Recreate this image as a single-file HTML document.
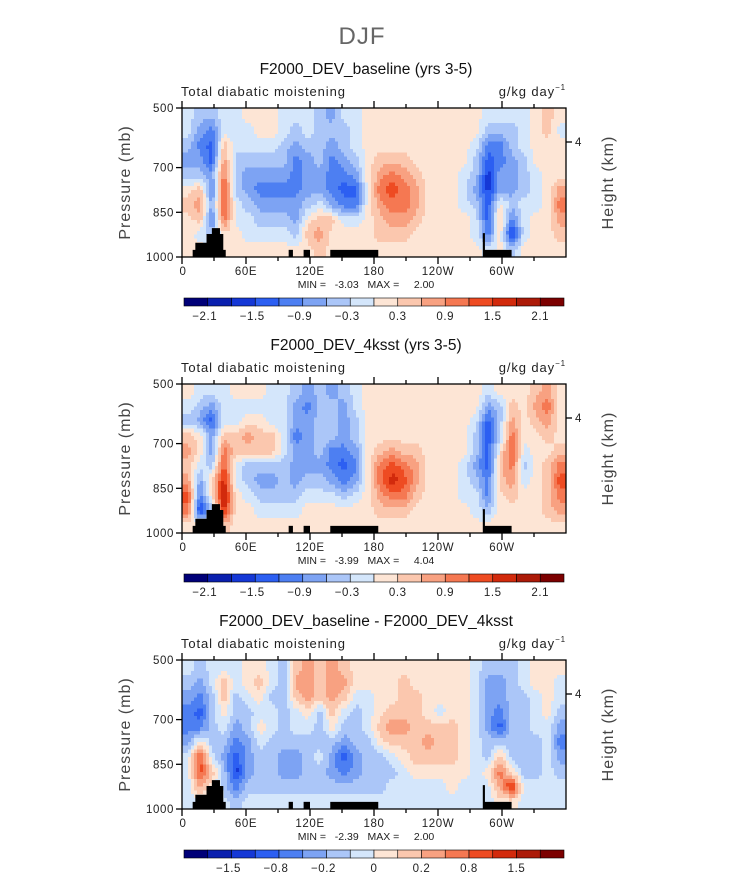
<!DOCTYPE html>
<html><head><meta charset="utf-8"><style>
html,body{margin:0;padding:0;background:#fff;}
svg{display:block;font-family:"Liberation Sans",sans-serif;}
</style></head><body>
<svg id="fig" width="733" height="872" viewBox="0 0 733 872" xmlns="http://www.w3.org/2000/svg">
<defs></defs>
<text x="362" y="44" text-anchor="middle" font-size="24" fill="#666" style="letter-spacing:1px">DJF</text>
</svg>
<script>
// ---- data (level indices 0..15; 0 = darkest blue, 15 = darkest red) ----
const lonEdges = [0,360];
const presEdges = [500,1000];
const baselineLevels = [
[7,6,6,7,7,8,8,8,7,7,7,6,5,7,7,8,8,8,8,8,8,8,8,8,8,7,7,7,7,8,9,8],
[7,5,4,7,7,7,8,8,7,6,7,6,6,6,7,8,8,8,8,8,8,8,8,8,8,6,6,6,7,8,9,7],
[6,4,3,9,7,7,7,7,6,5,6,6,5,6,7,8,8,8,8,8,8,8,8,8,7,4,4,6,7,8,8,8],
[5,5,3,10,6,6,6,6,6,4,5,6,4,5,6,8,9,9,9,8,8,8,8,8,6,3,4,5,6,8,8,8],
[6,6,5,11,6,5,5,5,5,4,5,5,4,4,5,8,10,11,10,9,8,8,8,7,6,2,5,5,6,7,8,8],
[8,9,4,12,6,5,4,4,4,4,5,5,4,3,3,8,11,12,11,10,8,8,8,7,5,2,5,5,6,7,8,10],
[9,10,5,12,7,6,5,5,5,5,6,7,5,4,4,8,10,11,11,10,8,8,8,7,6,3,8,6,7,7,8,11],
[8,9,4,11,7,7,6,6,6,5,8,9,9,7,7,8,9,10,10,9,8,8,8,8,7,3,9,4,7,8,8,10],
[8,7,6,8,8,7,7,7,7,6,9,10,8,8,8,8,9,9,9,8,8,8,8,8,7,4,8,2,7,8,8,9],
[8,8,8,8,8,8,8,8,8,8,8,9,8,8,8,8,8,8,8,8,8,8,8,8,8,7,8,6,8,8,8,8]];
const ksstLevels = [
[8,7,7,7,8,8,8,7,7,6,5,6,5,6,7,8,8,8,8,8,8,8,8,8,8,7,8,8,8,9,10,8],
[7,6,5,7,7,7,7,7,7,5,4,6,6,5,7,8,8,8,8,8,8,8,8,8,8,5,6,9,8,10,11,8],
[6,5,3,7,7,8,8,7,7,5,5,6,6,5,6,8,8,8,8,8,8,8,8,8,7,3,6,10,8,9,10,8],
[9,8,5,9,9,10,9,9,7,4,5,6,6,5,6,8,8,8,8,8,8,8,8,8,6,3,6,11,8,8,9,8],
[10,8,5,11,9,9,9,9,7,5,5,6,4,4,5,8,9,10,9,9,8,8,8,8,6,3,8,12,7,8,8,9],
[9,7,6,12,7,6,6,6,6,5,5,5,4,3,4,8,11,12,11,10,8,8,8,7,5,3,9,11,6,8,9,11],
[10,5,9,13,7,6,5,5,6,5,6,6,5,4,5,8,11,13,12,10,8,8,8,7,6,4,9,10,7,8,9,12],
[12,4,8,14,8,7,6,6,6,6,7,7,7,6,7,8,10,11,11,9,8,8,8,7,7,4,8,9,8,8,9,11],
[11,2,6,13,8,8,7,7,7,7,8,8,8,8,8,8,9,9,9,8,8,8,8,8,7,6,8,8,8,8,9,10],
[8,8,8,9,8,8,8,8,8,8,8,8,8,8,8,8,8,8,8,8,8,8,8,8,8,8,8,8,8,8,8,8]];
const diffLevels = [
[7,6,7,7,7,8,8,7,6,9,10,9,10,9,8,8,8,8,8,8,8,8,8,8,7,6,6,6,7,8,8,8],
[6,5,7,9,7,8,9,7,6,10,10,9,10,10,8,8,8,8,9,8,8,8,8,8,7,5,5,6,7,8,8,7],
[5,4,6,9,6,7,8,6,6,9,10,9,10,9,7,7,8,8,9,9,8,8,8,8,7,5,5,6,6,7,8,7],
[4,3,6,8,6,6,7,7,6,7,8,6,9,7,6,7,8,9,9,9,8,7,8,8,7,5,4,6,6,7,8,6],
[4,4,6,7,5,6,8,7,6,7,7,6,8,6,6,7,9,10,10,9,9,9,9,8,7,5,3,6,6,7,7,5],
[5,8,6,6,4,5,7,6,6,6,6,6,6,5,6,6,8,9,9,9,10,9,9,8,7,6,6,6,6,6,7,4],
[7,12,7,5,3,5,6,6,5,5,6,7,5,3,5,6,6,7,8,9,9,9,9,8,7,6,9,6,6,6,7,5],
[7,12,9,6,2,5,6,6,5,5,6,6,5,4,5,6,6,6,7,8,8,8,8,8,7,8,11,8,6,6,7,6],
[7,10,8,6,4,6,6,6,6,6,6,6,6,6,6,6,6,7,7,7,7,7,8,7,7,7,10,13,7,7,7,7],
[7,7,7,7,6,7,7,7,7,7,7,7,7,7,7,7,7,7,7,7,7,7,7,7,7,7,8,8,7,7,7,7]];
const panelTitles = ["F2000_DEV_baseline (yrs 3-5)","F2000_DEV_4ksst (yrs 3-5)","F2000_DEV_baseline - F2000_DEV_4ksst"];
const minLabels = ["-3.03","-3.99","-2.39"];
const maxLabels = ["2.00","4.04","2.00"];
const cbLabelsA = ["\u22122.1","\u22121.5","\u22120.9","\u22120.3","0.3","0.9","1.5","2.1"];
const cbLabelsB = ["\u22121.5","\u22120.8","\u22120.2","0","0.2","0.8","1.5"];
const xTickLons = [0,60,120,180,240,300];
const xTickLabels = ["0","60E","120E","180","120W","60W"];
const yTickPres = [500,700,850,1000];
const yTickLabels = ["500","700","850","1000"];
// terrain (lon, pressure) polygons
const terrain = [
 [[10,1000],[10,976],[12.5,976],[12.5,952],[23,952],[23,923],[28,923],[28,903],[35.6,903],[35.6,923],[38.7,923],[38.7,976],[41,976],[41,1000]],
 [[100,1000],[100,976],[104,976],[104,1000]],
 [[114,1000],[114,976],[120,976],[120,1000]],
 [[139,1000],[139,976],[184,976],[184,1000]],
 [[282,1000],[282,920],[284,920],[284,976],[309,976],[309,1000]]];
const palette = ["#000078","#0a1fae","#1538d6","#2c5ff2","#4d7ff2","#7da3f3","#abc6f8","#d4e6fb",
 "#fde5d5","#fbc7ae","#f8a181","#f57852","#ee4b22","#d22a0c","#ac1a08","#7c0000"];

const NS="http://www.w3.org/2000/svg";
const svg=document.getElementById('fig');
function el(tag,attrs,parent){const e=document.createElementNS(NS,tag);for(const k in attrs)e.setAttribute(k,attrs[k]);(parent||svg).appendChild(e);return e;}
const X0=182,X1=566,H=149;
function xScale(lon){return X0+(lon-lonEdges[0])/(lonEdges[1]-lonEdges[0])*(X1-X0);}
function sample(data,u,v){ // u: column coordinate (cell centers at integers), v: row
  const nr=data.length,nc=data[0].length;
  u=Math.max(0,Math.min(nc-1,u)); v=Math.max(0,Math.min(nr-1,v));
  const c0=Math.floor(u),r0=Math.floor(v),c1=Math.min(nc-1,c0+1),r1=Math.min(nr-1,r0+1);
  const fu=u-c0,fv=v-r0;
  return (data[r0][c0]*(1-fu)+data[r0][c1]*fu)*(1-fv)+(data[r1][c0]*(1-fu)+data[r1][c1]*fu)*fv;
}

const datasets=[baselineLevels,ksstLevels,diffLevels];
const SUB=4;
for(let p=0;p<3;p++){
  const Y0=108+276*p;
  const yScale=pr=>Y0+(pr-presEdges[0])/(presEdges[1]-presEdges[0])*H;
  const g=el('g',{});
  
  
  const t=el('text',{x:366,y:Y0-34,'text-anchor':'middle','font-size':15.5,fill:'#111'},g);
  t.textContent=panelTitles[p];
  
  
  const vt=el('text',{x:181,y:Y0-12,'font-size':13,fill:'#222',style:'letter-spacing:0.9px'},g);
  vt.textContent='Total diabatic moistening';
  
  
  const ut=el('text',{x:566,y:Y0-12,'text-anchor':'end','font-size':13,fill:'#222',style:'letter-spacing:0.9px'},g);
  ut.innerHTML='g/kg day<tspan dy="-6" font-size="8">\u22121</tspan>';
  
  
  // heatmap (bilinear-interpolated, quantized to contour levels)
  const data=datasets[p];
  const hg=el('g',{'shape-rendering':'crispEdges'},g);
  
  
  const nr=data.length,nc=data[0].length;
  const dl=(lonEdges[1]-lonEdges[0])/nc, dp=(presEdges[1]-presEdges[0])/nr;
  for(let r=0;r<nr*SUB;r++)for(let c=0;c<nc*SUB;c++){
    const u=(c+0.5)/SUB-0.5, v=(r+0.5)/SUB-0.5;
    const val=Math.round(sample(data,u,v));
    const xa=xScale(lonEdges[0]+c*dl/SUB),xb=xScale(lonEdges[0]+(c+1)*dl/SUB);
    const ya=yScale(presEdges[0]+r*dp/SUB),yb=yScale(presEdges[0]+(r+1)*dp/SUB);
    const cell=el('rect',{x:xa,y:ya,width:xb-xa+0.4,height:yb-ya+0.4,fill:palette[Math.max(0,Math.min(15,val))]},hg);
    
    
  }
  // terrain
  terrain.forEach(poly=>{
    const pg=el('polygon',{points:poly.map(q=>xScale(q[0])+','+yScale(q[1])).join(' '),fill:'#000'},g);
    
    
  });
  const fr=el('rect',{x:X0,y:Y0,width:X1-X0,height:H,fill:'none',stroke:'#000','stroke-width':1.3},g);
  
  
  // x ticks
  for(let lon=0;lon<360;lon+=30){
    const major=lon%60===0, x=xScale(lon), L=major?7:4;
    el('line',{x1:x,x2:x,y1:Y0,y2:Y0-L,stroke:'#000','stroke-width':1.3},g);
    el('line',{x1:x,x2:x,y1:Y0+H,y2:Y0+H+L,stroke:'#000','stroke-width':1.3},g);
  }
  xTickLons.forEach((lon,i)=>{
    const tl=el('text',{x:xScale(lon)+(i===0?1:0),y:Y0+H+18,'text-anchor':'middle','font-size':11.5,fill:'#222',style:'letter-spacing:0.6px'},g);
    tl.textContent=xTickLabels[i];
    
    
  });
  yTickPres.forEach((pr,i)=>{
    const y=yScale(pr);
    el('line',{x1:X0,x2:X0-6,y1:y,y2:y,stroke:'#000','stroke-width':1.3},g);
    const yl=el('text',{x:X0-8,y:y+4,'text-anchor':'end','font-size':11.5,fill:'#222',style:'letter-spacing:0.6px'},g);
    yl.textContent=yTickLabels[i];
    
    
  });
  el('line',{x1:X1,x2:X1+6,y1:Y0+34,y2:Y0+34,stroke:'#000','stroke-width':1.3},g);
  const hk=el('text',{x:X1+9,y:Y0+38,'font-size':11.5,fill:'#222'},g);
  hk.textContent='4';
  
  
  const ya=el('text',{x:0,y:0,'text-anchor':'middle','font-size':16,fill:'#444',style:'letter-spacing:1px',transform:'translate(130,'+(Y0+H/2)+') rotate(-90)'},g);
  ya.textContent='Pressure (mb)';
  
  
  const ya2=el('text',{x:0,y:0,'text-anchor':'middle','font-size':16,fill:'#444',style:'letter-spacing:1px',transform:'translate(613,'+(Y0+H/2)+') rotate(-90)'},g);
  ya2.textContent='Height (km)';
  
  
  const mm=el('text',{x:366,y:Y0+H+31,'text-anchor':'middle','font-size':10.5,fill:'#222',style:'white-space:pre'},g);
  mm.textContent='MIN =   '+minLabels[p]+'   MAX =     '+maxLabels[p];
  
  
  // colorbar
  const cb=el('g',{},g);
  
  
  const CX=184,CW=380,CY=Y0+190,CH=8,bw=CW/16;
  for(let k=0;k<16;k++){
    el('rect',{x:CX+k*bw,y:CY,width:bw,height:CH,fill:palette[k],stroke:'#000','stroke-width':0.6},cb);
  }
  const labs=p<2?cbLabelsA:cbLabelsB;
  labs.forEach((s,i)=>{
    const k=p<2?(1+2*i):(2+2*i);
    const neg=s.charAt(0)==='\u2212';
    const cl=el('text',{x:CX+k*bw-(neg?3:0),y:CY+22,'text-anchor':'middle','font-size':11.5,fill:'#222',style:'letter-spacing:0.6px'},cb);
    cl.textContent=s;
    
    
  });
}
</script>
</body></html>
